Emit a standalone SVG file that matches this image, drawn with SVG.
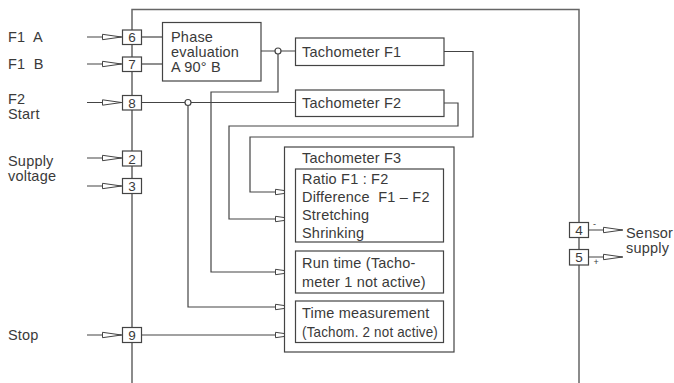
<svg xmlns="http://www.w3.org/2000/svg" width="674" height="383" viewBox="0 0 674 383">
<style>
text{font-family:"Liberation Sans",Arial,sans-serif;font-size:14.5px;letter-spacing:0.2px;fill:#3a3a3a;white-space:pre}
.n{font-size:13.5px;text-anchor:middle;letter-spacing:0}
.box{fill:#fff;stroke:#444;stroke-width:1.2}
.ln{fill:none;stroke:#444;stroke-width:1.2}
.bus{fill:none;stroke:#666;stroke-width:1.5}
.j{fill:#fff;stroke:#444;stroke-width:1.2}
</style>
<defs>
<marker id="a" markerUnits="userSpaceOnUse" markerWidth="22" markerHeight="8" viewBox="0 0 22 8" refX="20.5" refY="4" orient="auto">
<path d="M1,1.3 L20,4 L1,6.7 Z" fill="#fff" stroke="#444" stroke-width="1"/>
</marker>
</defs>
<g id="frame">
<path class="bus" d="M132,383 V9.5 H579 V383"/>
</g>
<g id="connectors">
<path class="ln" d="M87,37 H122" marker-end="url(#a)"/>
<path class="ln" d="M87,64 H122" marker-end="url(#a)"/>
<path class="ln" d="M87,102.5 H122" marker-end="url(#a)"/>
<path class="ln" d="M87,158 H122" marker-end="url(#a)"/>
<path class="ln" d="M87,186 H122" marker-end="url(#a)"/>
<path class="ln" d="M87,335 H122" marker-end="url(#a)"/>
<path class="ln" d="M141,37 H162"/>
<path class="ln" d="M141,64 H162"/>
<path class="ln" d="M261,51 H275 M281,51 H295"/>
<path class="ln" d="M278,54 V92 H211 V272 H295" marker-end="url(#a)"/>
<path class="ln" d="M141,102.5 H185 M191,102.5 H295"/>
<path class="ln" d="M188,105.5 V307 H295" marker-end="url(#a)"/>
<path class="ln" d="M444,51.5 H473 V137 H250 V192 H295" marker-end="url(#a)"/>
<path class="ln" d="M444,103 H458 V126 H229 V219 H295" marker-end="url(#a)"/>
<path class="ln" d="M141,335 H295" marker-end="url(#a)"/>
<path class="ln" d="M588,230 H623" marker-end="url(#a)"/>
<path class="ln" d="M588,257 H623" marker-end="url(#a)"/>
<circle class="j" cx="278" cy="51" r="3"/>
<circle class="j" cx="188" cy="102.5" r="3"/>
</g>
<g id="t6"><rect class="box" x="122.5" y="30" width="19" height="14.5"/><text class="n" x="132" y="42">6</text></g>
<g id="t7"><rect class="box" x="122.5" y="57" width="19" height="14.5"/><text class="n" x="132" y="69">7</text></g>
<g id="t8"><rect class="box" x="122.5" y="95.5" width="19" height="14.5"/><text class="n" x="132" y="107.5">8</text></g>
<g id="t2"><rect class="box" x="122.5" y="151" width="19" height="15"/><text class="n" x="132" y="163.5">2</text></g>
<g id="t3"><rect class="box" x="122.5" y="178.5" width="19" height="15"/><text class="n" x="132" y="191">3</text></g>
<g id="t9"><rect class="box" x="122.5" y="327.5" width="19" height="15"/><text class="n" x="132" y="340">9</text></g>
<g id="t4"><rect class="box" x="569.5" y="222.5" width="19" height="15"/><text class="n" x="579" y="235">4</text></g>
<g id="t5"><rect class="box" x="569.5" y="249.5" width="19" height="15.5"/><text class="n" x="579" y="262">5</text></g>
<g id="labels">
<text x="8" y="42">F1  A</text>
<text x="8" y="69">F1  B</text>
<text x="8" y="104">F2</text>
<text x="8" y="119">Start</text>
<text x="8" y="166">Supply</text>
<text x="8" y="181">voltage</text>
<text x="8" y="340">Stop</text>
<text x="626" y="238">Sensor</text>
<text x="626" y="253">supply</text>
<text x="593" y="227" style="font-size:9px">-</text>
<text x="593.5" y="265" style="font-size:9px">+</text>
</g>
<g id="phase">
<rect class="box" x="162.5" y="22.5" width="98.5" height="58.5"/>
<text x="171" y="42">Phase</text>
<text x="171" y="57">evaluation</text>
<text x="171" y="72">A 90° B</text>
</g>
<g id="tachF1">
<rect class="box" x="295.5" y="38" width="148.5" height="27.5"/>
<text x="302" y="57">Tachometer F1</text>
</g>
<g id="tachF2">
<rect class="box" x="295.5" y="90" width="148.5" height="26.5"/>
<text x="302" y="108">Tachometer F2</text>
</g>
<g id="tachF3">
<rect class="box" x="284.5" y="147" width="169.5" height="205"/>
<text x="302" y="163">Tachometer F3</text>
</g>
<g id="ratio">
<rect class="box" x="295.5" y="169" width="148" height="73"/>
<text x="302" y="184">Ratio F1 : F2</text>
<text x="302" y="202">Difference  F1 – F2</text>
<text x="302" y="220">Stretching</text>
<text x="302" y="238">Shrinking</text>
</g>
<g id="runtime">
<rect class="box" x="295.5" y="251" width="148" height="42"/>
<text x="302" y="268">Run time (Tacho-</text>
<text x="302" y="287">meter 1 not active)</text>
</g>
<g id="timemeas">
<rect class="box" x="295.5" y="301" width="148" height="41.5"/>
<text x="302" y="318">Time measurement</text>
<text x="302" y="337" textLength="136" lengthAdjust="spacingAndGlyphs">(Tachom. 2 not active)</text>
</g>
</svg>
